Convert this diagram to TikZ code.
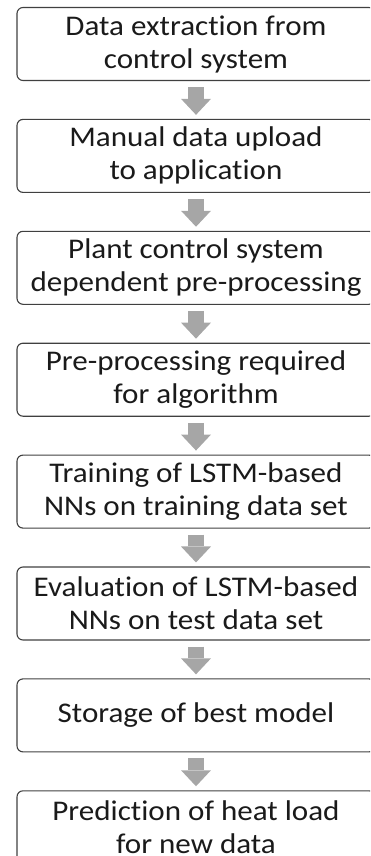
\documentclass[tikz,border=0pt]{standalone}
\usepackage{fontspec}
\setmainfont{Carlito}[Ligatures=NoCommon, FakeStretch=1.09]
\usetikzlibrary{arrows.meta}
\definecolor{boxline}{HTML}{404040}
\definecolor{arrowgray}{HTML}{A6A6A6}
\definecolor{txt}{HTML}{1A1A1A}
\begin{document}
\begin{tikzpicture}[x=1pt,y=-1pt,
  stepbox/.style={draw=boxline, line width=1.1pt, rounded corners=6pt,
    minimum width=358pt, minimum height=73pt, align=center, text=txt,
    font=\fontsize{28.5}{33}\selectfont, inner sep=0pt},
  flowarrow/.style={draw=arrowgray, line width=16pt,
    -{Triangle[width=30pt,length=16pt,line width=0pt]},
    shorten <=6pt, shorten >=4pt}]
\useasboundingbox (0,0) rectangle (370,856);
\clip (0,0) rectangle (370,856);
\node[stepbox] (s1) at (196,44) {Data extraction from\\control system};
\node[stepbox] (s2) at (196,155.9) {Manual data upload\\to application};
\node[stepbox] (s3) at (196,267.8) {Plant control system\\dependent pre-processing};
\node[stepbox] (s4) at (196,379.7) {Pre-processing required\\for algorithm};
\node[stepbox] (s5) at (196,491.6) {Training of LSTM-based\\NNs on training data set};
\node[stepbox] (s6) at (196,603.5) {Evaluation of LSTM-based\\NNs on test data set};
\node[stepbox] (s7) at (196,715.4) {Storage of best model};
\node[stepbox] (s8) at (196,827.3) {Prediction of heat load\\for new data};
\draw[flowarrow] (s1.south) -- (s2.north);
\draw[flowarrow] (s2.south) -- (s3.north);
\draw[flowarrow] (s3.south) -- (s4.north);
\draw[flowarrow] (s4.south) -- (s5.north);
\draw[flowarrow] (s5.south) -- (s6.north);
\draw[flowarrow] (s6.south) -- (s7.north);
\draw[flowarrow] (s7.south) -- (s8.north);
\end{tikzpicture}
\end{document}
